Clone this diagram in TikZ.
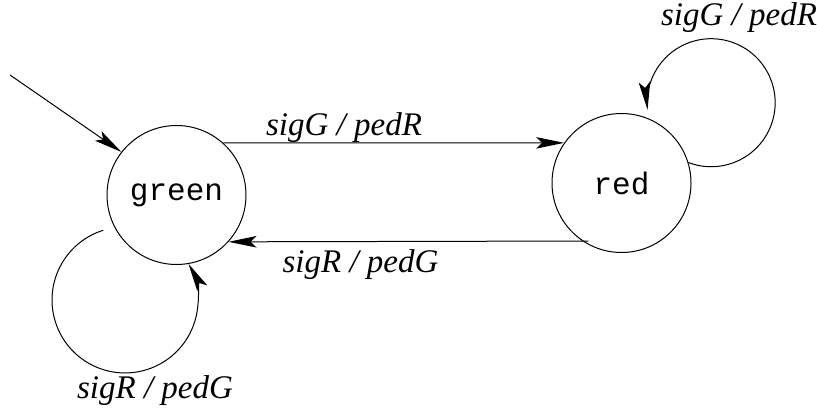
\documentclass[tikz,border=0pt]{standalone}
\usepackage{fontspec}
\setmainfont{Liberation Serif}
\setmonofont{Liberation Mono}
\usetikzlibrary{arrows.meta}
\begin{document}
\begin{tikzpicture}[x=1pt,y=1pt,
  line width=1pt,
  state/.style={draw, circle, minimum size=139pt, inner sep=0pt,
    font=\ttfamily\fontsize{31}{31}\selectfont},
  lbl/.style={anchor=base, inner sep=0pt,
    font=\itshape\fontsize{33}{33}\selectfont},
  trans/.style={-{Stealth[length=28pt,width=11.5pt,inset=6pt]}}]
  \useasboundingbox (0,0) rectangle (817,-409);

  % states
  \node[state] (green) at (176.5,-195) {green};
  \node[state] (red)   at (621.5,-183) {red};

  % initial transition
  \coordinate (init) at (10,-75);
  \draw[trans] (init) -- (green.142);

  % green -> red
  \draw[trans] (green.48) -- (red.145);
  \node[lbl] (l1) at (344,-136) {sigG / pedR};

  % red -> green
  \draw[trans, shorten <=-6pt] (red.236.6) -- (green.318.6);
  \node[lbl] (l2) at (360.5,-272) {sigR / pedG};

  % self loop on red
  \draw[trans] (red.17) arc[start angle=-110.8, end angle=186.4, radius=64];
  \node[lbl] (l3) at (739,-26) {sigG / pedR};

  % self loop on green
  \coordinate (gl) at (103.2,-230.3);
  \draw[trans] (gl) arc[start angle=107.4, end angle=389.6, radius=73];
  \node[lbl] (l4) at (155,-398) {sigR / pedG};
\end{tikzpicture}
\end{document}
